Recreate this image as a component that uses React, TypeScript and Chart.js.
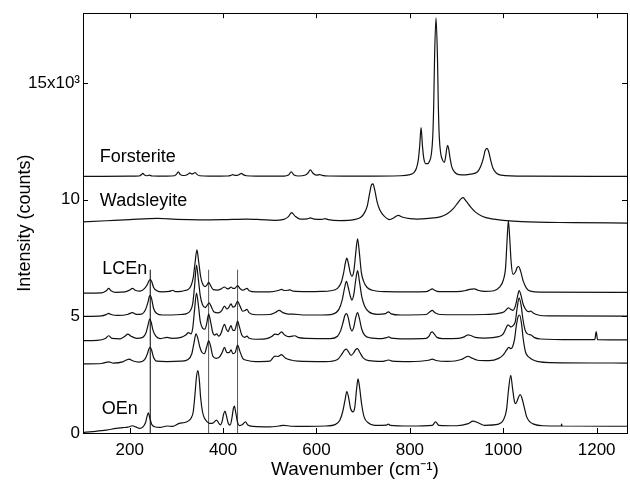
import React, { useEffect, useRef } from 'react';
import { Chart, registerables } from 'chart.js';
Chart.register(...registerables);

const xTicks = [200, 400, 600, 800, 1000, 1200];
const yTicks = [0, 5000, 10000, 15000];
const yTickLabels = ['0', '5', '10', '15x10³'];

const forsterite = [
  [100, 11000], [200, 11010], [220, 11020], [225, 11070], [228, 11130], [232, 11060], [236, 11030], [242, 11055], [248, 11020],
  [280, 11010], [296, 11030], [300, 11090], [304, 11200], [308, 11090], [314, 11040], [320, 11050], [325, 11100], [329, 11150],
  [333, 11110], [336, 11120], [340, 11170], [344, 11090], [350, 11030], [370, 11010], [410, 11020], [417, 11050], [421, 11080],
  [425, 11050], [430, 11050], [435, 11090], [439, 11130], [443, 11080], [450, 11030], [470, 11010], [530, 11015], [540, 11060],
  [546, 11200], [552, 11060], [562, 11020], [575, 11050], [582, 11150], [587, 11280], [592, 11150], [600, 11060], [607, 11080],
  [612, 11050], [625, 11020], [700, 11010], [780, 11030], [800, 11080], [808, 11150], [814, 11350], [818, 11700], [821, 12300],
  [824, 13100], [827, 12300], [830, 11750], [834, 11550], [838, 11550], [842, 11650], [846, 11950], [849, 12700], [851, 14000],
  [853, 16200], [856, 17800], [859, 16200], [861, 14000], [863, 12700], [866, 12000], [870, 11700], [874, 11600], [877, 11900],
  [879, 12200], [881, 12330], [883, 12200], [886, 11800], [890, 11400], [896, 11180], [905, 11080], [919, 11070], [930, 11100],
  [945, 11200], [952, 11450], [957, 11750], [961, 12100], [965, 12200], [969, 12050], [973, 11700], [978, 11350], [985, 11150],
  [995, 11060], [1050, 11010], [1265, 11000],
];

const wadsleyite = [
  [100, 9050], [150, 9100], [200, 9150], [260, 9200], [300, 9160], [350, 9140], [400, 9150], [450, 9170], [480, 9150],
  [510, 9120], [530, 9160], [540, 9280], [547, 9450], [554, 9300], [565, 9170], [580, 9180], [587, 9220], [595, 9170],
  [612, 9160], [618, 9190], [625, 9150], [650, 9110], [680, 9150], [695, 9250], [703, 9450], [709, 9750], [714, 10300],
  [718, 10650], [721, 10680], [725, 10400], [730, 9900], [736, 9550], [745, 9300], [757, 9150], [765, 9220], [775, 9330],
  [785, 9250], [800, 9190], [815, 9170], [840, 9200], [865, 9270], [880, 9400], [893, 9620], [903, 9880], [910, 10050],
  [914, 10090], [920, 9950], [930, 9700], [940, 9480], [956, 9280], [975, 9180], [1000, 9120], [1040, 9060], [1150, 9020],
  [1265, 9000],
];

const lcenA = [
  [100, 6000], [140, 6010], [150, 6100], [155, 6200], [160, 6100], [170, 6030], [190, 6050], [200, 6130], [206, 6200],
  [212, 6120], [222, 6080], [232, 6200], [238, 6380], [241, 6520], [244, 6580], [247, 6500], [251, 6250], [258, 6100],
  [270, 6050], [285, 6070], [292, 6120], [298, 6060], [310, 6070], [318, 6110], [325, 6150], [331, 6300], [336, 6650],
  [340, 7300], [344, 7850], [348, 7300], [352, 6700], [356, 6400], [361, 6280], [365, 6330], [369, 6460], [373, 6330],
  [379, 6150], [388, 6130], [395, 6170], [403, 6260], [409, 6180], [413, 6200], [417, 6260], [421, 6200], [425, 6200],
  [431, 6320], [436, 6200], [442, 6120], [446, 6150], [451, 6200], [456, 6100], [470, 6050], [500, 6050], [520, 6120],
  [525, 6160], [532, 6110], [538, 6120], [543, 6140], [550, 6080], [580, 6060], [610, 6070], [630, 6100], [645, 6200],
  [653, 6450], [658, 6850], [662, 7300], [665, 7500], [668, 7300], [672, 6900], [676, 6720], [680, 6950], [684, 7700],
  [688, 8330], [692, 7700], [696, 6900], [701, 6500], [708, 6250], [720, 6120], [750, 6060], [800, 6050], [835, 6060],
  [843, 6130], [848, 6180], [853, 6120], [862, 6060], [900, 6060], [920, 6110], [928, 6160], [938, 6180], [946, 6120],
  [960, 6070], [980, 6100], [992, 6250], [1000, 6550], [1005, 7100], [1008, 8200], [1011, 9100], [1014, 8300], [1017, 7300],
  [1021, 6800], [1026, 6900], [1030, 7100], [1033, 7140], [1037, 6950], [1043, 6500], [1050, 6200], [1058, 6080],
  [1080, 6040], [1265, 6030],
];

const lcenB = [
  [100, 5000], [140, 5020], [150, 5080], [155, 5130], [160, 5080], [175, 5040], [195, 5080], [206, 5160], [214, 5090],
  [225, 5100], [234, 5300], [239, 5600], [242, 5850], [244, 5900], [247, 5750], [251, 5350], [258, 5120], [270, 5060],
  [290, 5060], [310, 5080], [322, 5120], [330, 5250], [335, 5550], [339, 6300], [343, 7200], [347, 6600], [351, 5900],
  [356, 5500], [362, 5380], [366, 5480], [370, 5580], [374, 5450], [380, 5200], [390, 5150], [397, 5250], [403, 5440],
  [408, 5320], [412, 5380], [417, 5540], [421, 5400], [425, 5420], [431, 5650], [436, 5450], [442, 5220], [447, 5250],
  [451, 5300], [456, 5150], [470, 5070], [500, 5080], [512, 5170], [520, 5260], [528, 5160], [540, 5100], [550, 5100],
  [570, 5060], [610, 5060], [635, 5100], [648, 5300], [655, 5700], [660, 6200], [664, 6500], [668, 6250], [672, 5900],
  [676, 5700], [680, 5950], [684, 6550], [688, 6960], [692, 6500], [697, 5850], [703, 5450], [712, 5200], [730, 5090],
  [748, 5120], [754, 5190], [760, 5110], [780, 5060], [835, 5080], [843, 5200], [848, 5260], [853, 5170], [865, 5080],
  [900, 5070], [960, 5080], [990, 5130], [1002, 5200], [1008, 5320], [1011, 5370], [1016, 5300], [1021, 5260],
  [1026, 5450], [1030, 5800], [1034, 6110], [1038, 5900], [1043, 5500], [1050, 5250], [1055, 5200], [1059, 5230],
  [1064, 5150], [1075, 5060], [1100, 5020], [1265, 5010],
];

const lcenC = [
  [100, 3960], [130, 3970], [148, 4050], [155, 4170], [162, 4060], [180, 4040], [190, 4150], [196, 4240], [203, 4150],
  [215, 4060], [228, 4100], [235, 4300], [239, 4600], [243, 4880], [246, 4750], [250, 4400], [256, 4150], [265, 4050],
  [280, 4100], [290, 4060], [310, 4100], [320, 4200], [326, 4300], [331, 4250], [335, 4500], [339, 5300], [343, 6000],
  [347, 5500], [351, 4800], [356, 4500], [361, 4450], [365, 4700], [369, 5100], [373, 4800], [378, 4300], [382, 4200],
  [386, 4250], [391, 4150], [396, 4300], [400, 4550], [403, 4660], [407, 4450], [411, 4350], [414, 4500], [417, 4600],
  [421, 4400], [425, 4400], [428, 4600], [431, 4800], [435, 4550], [440, 4200], [446, 4100], [451, 4150], [456, 4060],
  [470, 4020], [495, 4060], [505, 4150], [511, 4240], [518, 4220], [525, 4340], [532, 4200], [540, 4130], [548, 4150],
  [554, 4170], [560, 4100], [580, 4060], [630, 4050], [645, 4150], [652, 4400], [657, 4750], [661, 5050], [664, 5120],
  [668, 4950], [672, 4550], [676, 4380], [680, 4550], [684, 4950], [688, 5160], [692, 4900], [697, 4450], [703, 4200],
  [715, 4080], [740, 4050], [750, 4090], [755, 4120], [760, 4070], [790, 4040], [835, 4060], [841, 4150], [845, 4300],
  [848, 4340], [852, 4250], [858, 4100], [870, 4050], [905, 4060], [915, 4110], [922, 4190], [925, 4210], [930, 4180],
  [940, 4100], [960, 4070], [990, 4130], [1000, 4250], [1006, 4500], [1010, 4640], [1013, 4600], [1017, 4550],
  [1021, 4600], [1026, 4800], [1030, 5400], [1034, 5800], [1038, 5500], [1042, 4900], [1047, 4400], [1052, 4250],
  [1060, 4200], [1066, 4100], [1080, 4030], [1150, 4000], [1196, 4000], [1199, 4350], [1202, 4000], [1265, 3990],
];

const lcenD = [
  [100, 2960], [140, 2980], [155, 3050], [165, 3000], [185, 3050], [193, 3130], [199, 3170], [206, 3100], [220, 3040],
  [232, 3150], [238, 3400], [241, 3600], [244, 3670], [247, 3550], [251, 3250], [258, 3080], [280, 3060], [310, 3080],
  [325, 3150], [333, 3400], [338, 3900], [342, 4250], [346, 4050], [350, 3700], [355, 3450], [360, 3400], [365, 3700],
  [369, 3950], [373, 3750], [378, 3300], [385, 3200], [392, 3250], [398, 3450], [403, 3670], [408, 3450], [413, 3450],
  [417, 3560], [421, 3400], [426, 3450], [431, 3770], [436, 3500], [442, 3200], [450, 3120], [470, 3060], [500, 3080],
  [511, 3300], [518, 3280], [525, 3360], [533, 3220], [545, 3130], [560, 3080], [620, 3060], [645, 3150], [655, 3400],
  [660, 3550], [664, 3600], [668, 3500], [674, 3330], [680, 3450], [684, 3580], [688, 3620], [693, 3450], [700, 3220],
  [712, 3100], [740, 3070], [750, 3110], [755, 3130], [762, 3080], [800, 3060], [840, 3120], [848, 3170], [856, 3110],
  [880, 3070], [910, 3150], [920, 3260], [925, 3290], [932, 3220], [945, 3120], [970, 3100], [990, 3200], [1000, 3350],
  [1007, 3550], [1012, 3670], [1016, 3620], [1020, 3700], [1024, 4000], [1028, 4600], [1032, 5000], [1035, 5060],
  [1039, 4700], [1043, 4000], [1048, 3450], [1055, 3250], [1062, 3150], [1075, 3060], [1100, 3020], [1265, 3000],
];

const oen = [
  [100, 30], [120, 60], [150, 120], [171, 200], [185, 230], [196, 250], [206, 310], [213, 260], [221, 200], [228, 250],
  [234, 450], [237, 700], [240, 860], [243, 650], [247, 380], [253, 270], [265, 240], [280, 300], [292, 280], [306, 410],
  [318, 450], [326, 520], [331, 620], [336, 900], [340, 1700], [343, 2400], [346, 2680], [349, 2300], [352, 1500],
  [356, 900], [360, 640], [366, 480], [371, 410], [378, 420], [386, 550], [390, 450], [394, 350], [398, 500], [401, 800],
  [404, 940], [407, 750], [411, 420], [415, 340], [419, 650], [422, 1050], [424, 1150], [427, 900], [431, 450], [435, 320],
  [441, 350], [448, 480], [453, 340], [465, 280], [500, 260], [520, 300], [530, 330], [545, 290], [580, 280], [620, 300],
  [640, 360], [650, 550], [656, 900], [661, 1400], [665, 1780], [669, 1500], [673, 1050], [678, 910], [682, 1100],
  [686, 1900], [689, 2320], [692, 2000], [697, 1200], [702, 690], [710, 450], [725, 330], [750, 340], [754, 380],
  [758, 330], [800, 300], [848, 330], [855, 480], [862, 330], [900, 310], [925, 400], [935, 510], [945, 450], [960, 330],
  [990, 380], [1000, 550], [1007, 1000], [1011, 1800], [1016, 2470], [1020, 1900], [1024, 1350], [1027, 1260],
  [1031, 1450], [1036, 1650], [1040, 1500], [1045, 1100], [1050, 700], [1056, 500], [1065, 380], [1085, 310],
  [1124, 300], [1125, 380], [1126, 300], [1265, 290],
];

const markerLines = [
  { x: 244, top: 7000, color: '#000000' },
  { x: 369, top: 7000, color: '#555555' },
  { x: 431, top: 7000, color: '#555555' },
];

const seriesLabels = [
  { text: 'Forsterite', x: 136, y: 11820 },
  { text: 'Wadsleyite', x: 136, y: 9950 },
  { text: 'LCEn', x: 141, y: 7030 },
  { text: 'OEn', x: 140, y: 1010 },
];

const FONT = '"Liberation Sans", Arial, Helvetica, sans-serif';

export default function App() {
  const ref = useRef<HTMLCanvasElement>(null);

  useEffect(() => {
    if (!ref.current) return;
    const toXY = (a: number[][]) => a.map(([x, y]) => ({ x, y }));
    const spectrum = (a: number[][]) => ({
      data: toXY(a),
      borderColor: '#111111',
      borderWidth: 1.2,
      pointRadius: 0,
      fill: false,
      cubicInterpolationMode: 'monotone' as const,
    });
    const markers = markerLines.map((m) => ({
      data: [{ x: m.x, y: 0 }, { x: m.x, y: m.top }],
      borderColor: m.color,
      borderWidth: 1,
      pointRadius: 0,
      fill: false,
    }));

    const frame = {
      id: 'frame',
      afterDraw(chart: any) {
        const { ctx, chartArea: a, scales } = chart;
        const xs = scales.x;
        const ys = scales.y;
        ctx.save();
        ctx.strokeStyle = '#000';
        ctx.lineWidth = 1;
        ctx.strokeRect(Math.round(a.left) + 0.5, Math.round(a.top) + 0.5, Math.round(a.right - a.left), Math.round(a.bottom - a.top));
        ctx.beginPath();
        const tl = 5;
        xTicks.forEach((v) => {
          const px = Math.round(xs.getPixelForValue(v)) + 0.5;
          ctx.moveTo(px, a.bottom);
          ctx.lineTo(px, a.bottom - tl);
          ctx.moveTo(px, a.top);
          ctx.lineTo(px, a.top + tl);
        });
        yTicks.forEach((v) => {
          const py = Math.round(ys.getPixelForValue(v)) + 0.5;
          ctx.moveTo(a.left, py);
          ctx.lineTo(a.left + tl, py);
          ctx.moveTo(a.right, py);
          ctx.lineTo(a.right - tl, py);
        });
        ctx.stroke();
        ctx.fillStyle = '#000';
        ctx.font = `18px ${FONT}`;
        ctx.textAlign = 'left';
        ctx.textBaseline = 'middle';
        seriesLabels.forEach((l) => {
          ctx.fillText(l.text, xs.getPixelForValue(l.x), ys.getPixelForValue(l.y));
        });
        ctx.restore();
      },
    };

    const chart = new Chart(ref.current, {
      type: 'line',
      data: {
        datasets: [
          spectrum(forsterite),
          spectrum(wadsleyite),
          spectrum(lcenA),
          spectrum(lcenB),
          spectrum(lcenC),
          spectrum(lcenD),
          spectrum(oen),
          ...markers,
        ] as any,
      },
      options: {
        animation: false,
        responsive: true,
        maintainAspectRatio: false,
        layout: { padding: { left: 0, right: 3, top: 9, bottom: 0 } },
        plugins: { legend: { display: false }, tooltip: { enabled: false } },
        scales: {
          x: {
            type: 'linear',
            min: 100,
            max: 1265,
            afterBuildTicks: (s: any) => {
              s.ticks = xTicks.map((v) => ({ value: v }));
            },
            afterFit: (s: any) => {
              s.height = 55;
            },
            grid: { display: false, drawTicks: false },
            border: { display: false },
            ticks: {
              padding: 7,
              color: '#000',
              font: { family: FONT, size: 17 },
              maxRotation: 0,
              autoSkip: false,
              callback: (v: any) => String(v),
            },
            title: {
              display: true,
              text: 'Wavenumber (cm⁻¹)',
              color: '#000',
              font: { family: FONT, size: 19 },
              padding: { top: 0, bottom: 7 },
            },
          },
          y: {
            type: 'linear',
            min: 0,
            max: 18000,
            afterBuildTicks: (s: any) => {
              s.ticks = yTicks.map((v) => ({ value: v }));
            },
            afterFit: (s: any) => {
              s.width = 83;
            },
            grid: { display: false, drawTicks: false },
            border: { display: false },
            ticks: {
              padding: 3,
              color: '#000',
              font: { family: FONT, size: 17 },
              autoSkip: false,
              callback: (v: any) => {
                const i = yTicks.indexOf(Number(v));
                return i >= 0 ? yTickLabels[i] : '';
              },
            },
            title: {
              display: true,
              text: 'Intensity (counts)',
              color: '#000',
              font: { family: FONT, size: 18 },
              padding: { top: 14, bottom: 0 },
            },
          },
        },
      },
      plugins: [frame],
    });
    return () => chart.destroy();
  }, []);

  return (
    <div style={{ position: 'fixed', left: 0, top: 0, width: 630, height: 488 }}>
      <canvas ref={ref} />
    </div>
  );
}
